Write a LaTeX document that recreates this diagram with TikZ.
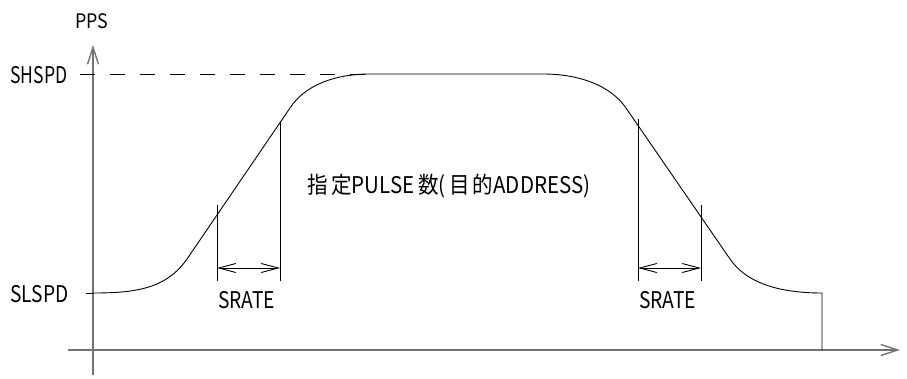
\documentclass[tikz,border=0pt]{standalone}
\usepackage{graphicx}
\usepackage{fontspec}
\setmainfont{Noto Sans CJK JP}
\usetikzlibrary{arrows.meta,positioning}
\newcommand{\fitto}[2]{\resizebox{#1}{\height}{#2}}

\begin{document}
\begin{tikzpicture}[x=1pt,y=-1pt,line width=0.9pt,
  axis/.style={draw=black!55,line width=1.4pt,-{Straight Barb[length=17pt,width=11pt]}},
  span/.style={{Straight Barb[length=17pt,width=9pt]}-{Straight Barb[length=17pt,width=9pt]}},
  lbl/.style={font=\fontsize{23}{23}\selectfont,inner sep=0pt}]
\useasboundingbox (0,0) rectangle (907,378);

% axes
\coordinate (o) at (93,375);
\coordinate (ytop) at (93,45);
\coordinate (xl) at (68,350);
\coordinate (xr) at (900,350);
\draw[axis] (o) -- (ytop);
\draw[axis] (xl) -- (xr);

\node[lbl,font=\fontsize{20}{20}\selectfont,anchor=base] (pps) at (92,28) {\fitto{33pt}{PPS}};
\node[lbl,anchor=base west] (hi) at (10,83) {\fitto{57pt}{SHSPD}};
\node[lbl,anchor=base west] (lo) at (10,302) {\fitto{58pt}{SLSPD}};

% speed profile
\coordinate (a1) at (93,293);
\coordinate (a2) at (187,259);
\coordinate (a3) at (290,108);
\coordinate (a4) at (370,74);
\coordinate (a5) at (543,74);
\coordinate (a6) at (626,108);
\coordinate (a7) at (730,259);
\coordinate (a8) at (822,293);
\coordinate (a9) at (822,350);

\draw[dash pattern=on 15pt off 15pt] (80,74) -- (a4);
\draw (86,293) -- (a1);

\draw (a1) .. controls (135,293) and (166,289) .. (a2) -- (a3)
  .. controls (305,85) and (335,74) .. (a4) -- (a5)
  .. controls (580,74) and (611,86) .. (a6) -- (a7)
  .. controls (745,281) and (775,293) .. (a8) -- (a9);

\node[lbl,anchor=base west] (pulse) at (307,193) {\fitto{283pt}{指\,定PULSE\,数(\,目\,的ADDRESS)}};

% acceleration / deceleration spans
\foreach \i / \xa / \ya / \xb / \yb in {1/217/205/280/121, 2/638/119/701/205} {
  \coordinate (s\i a) at (\xa,\ya);
  \coordinate (s\i b) at (\xb,\yb);
  \coordinate (s\i c) at (\xa,281);
  \coordinate (s\i d) at (\xb,281);
  \draw (s\i a) -- (s\i c);
  \draw (s\i b) -- (s\i d);
  \draw[span] (\xa,268) -- (\xb,268);
  \node[lbl,anchor=base] (rate\i) at ({(\xa+\xb)/2-2},308) {\fitto{57pt}{SRATE}};
}

\end{tikzpicture}
\end{document}
